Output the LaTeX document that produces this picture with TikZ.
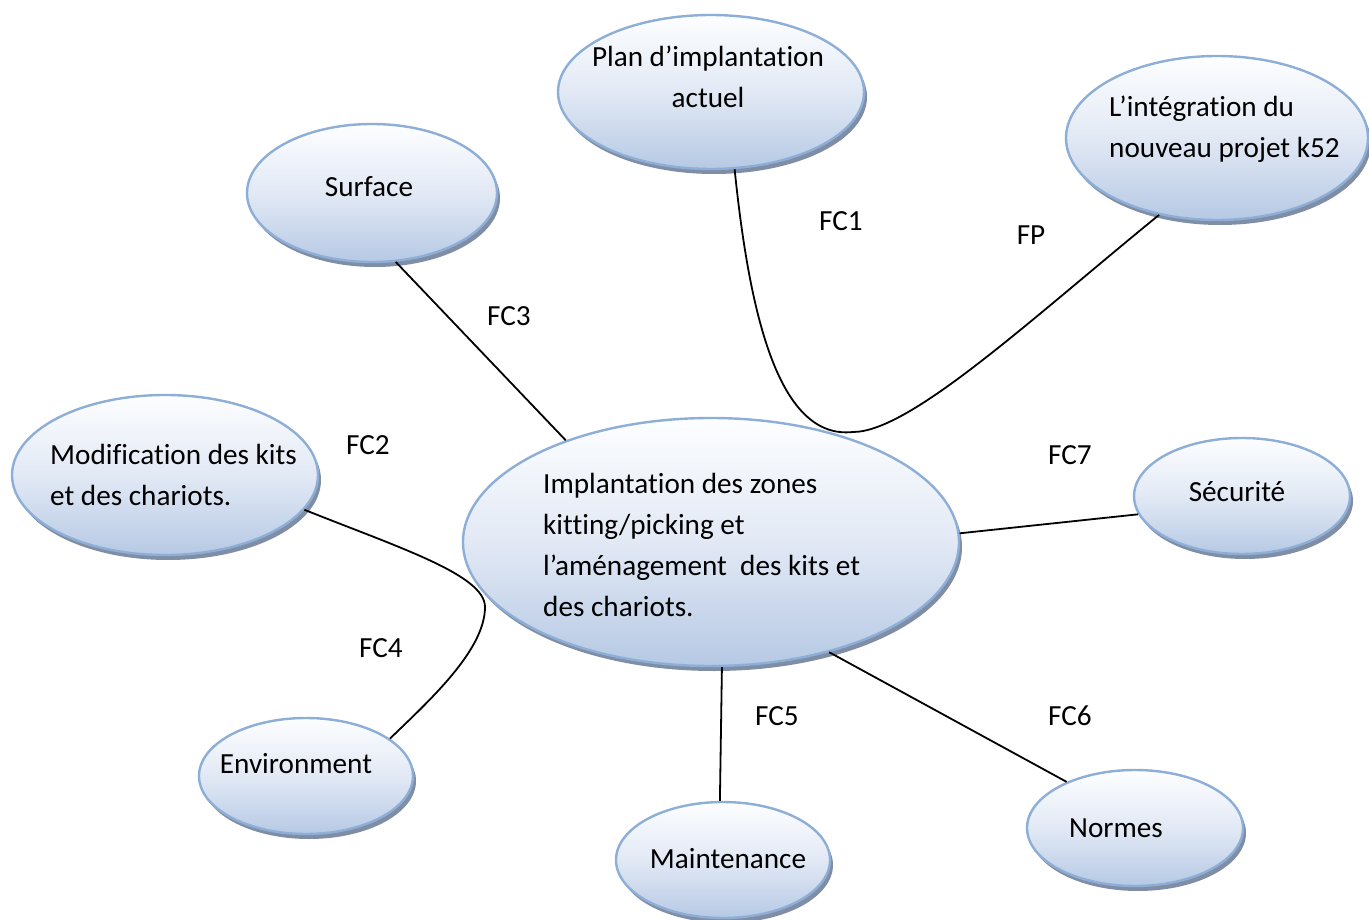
\documentclass[tikz,border=0pt]{standalone}
\usepackage{fontspec}
\setmainfont{Carlito}[Ligatures={NoCommon,NoContextual},RawFeature={-liga;-clig;-dlig}]
\usetikzlibrary{shapes.geometric,shadows}
\definecolor{ellborder}{RGB}{141,174,214}
\definecolor{elltop}{RGB}{253,254,255}
\definecolor{ellmid}{RGB}{226,233,245}
\definecolor{ellbot}{RGB}{182,201,228}
\definecolor{ellshadow}{RGB}{128,142,165}
\tikzset{
  bubble/.style={ellipse, draw=ellborder, line width=2.4pt,
    top color=elltop, bottom color=ellbot, middle color=ellmid,
    inner sep=0pt,
    drop shadow={shadow xshift=3pt, shadow yshift=-5pt, fill=ellshadow, opacity=1}},
  txt/.style={inner sep=0pt, font=\fontsize{29.2}{41}\selectfont},
  link/.style={line width=1.8pt, black},
  fclabel/.style={txt, anchor=base}
}
\begin{document}
\begin{tikzpicture}[x=1pt, y=-1pt]
\path[use as bounding box] (0,0) rectangle (1369,920);

% bubbles
\node[bubble, minimum width=306pt, minimum height=154pt] (plan)  at (711,92)  {};
\node[bubble, minimum width=302pt, minimum height=164pt] (integ) at (1217,138) {};
\node[bubble, minimum width=250pt, minimum height=138pt] (surf)  at (372,193) {};
\node[bubble, minimum width=306pt, minimum height=160pt] (modif) at (165,475) {};
\node[bubble, minimum width=496pt, minimum height=248pt] (cent)  at (711,542) {};
\node[bubble, minimum width=216pt, minimum height=116pt] (secu)  at (1242,496) {};
\node[bubble, minimum width=214pt, minimum height=116pt] (env)   at (306,776) {};
\node[bubble, minimum width=214pt, minimum height=116pt] (maint) at (723,860) {};
\node[bubble, minimum width=216pt, minimum height=116pt] (norm)  at (1135,828) {};

% bubble texts
\node[txt, anchor=base] (plantxt) at (708,67)
  {\vtop{\halign{\hfil#\hfil\cr Plan d’implantation\cr actuel\cr}}};
\node[txt, anchor=base west] (integtxt) at (1109,117)
  {\vtop{\hbox{L’intégration du}\hbox{nouveau projet k52}}};
\node[txt, anchor=base] (surftxt) at (369,197) {Surface};
\node[txt, anchor=base west] (modiftxt) at (50,464)
  {\vtop{\hbox{Modification des kits}\hbox{et des chariots.}}};
\node[txt, anchor=base west] (centtxt) at (543,493)
  {\vtop{\hbox{Implantation des zones}\hbox{kitting/picking et}%
         \hbox{l’aménagement\ \ des kits et}\hbox{des chariots.}}};
\node[txt, anchor=base] (secutxt)  at (1237,501) {Sécurité};
\node[txt, anchor=base] (envtxt)   at (296,773)  {Environment};
\node[txt, anchor=base] (mainttxt) at (728,868)  {Maintenance};
\node[txt, anchor=base] (normtxt)  at (1116,837) {Normes};

% connectors
\draw[link] (surf.-71.6) -- (cent.145.2);
\draw[link] (plan.-73.6) .. controls (750,320) and (780,440) .. (853,432)
                         .. controls (910,432) and (1030,320) .. (integ.-127.7);
\draw[link] (modif.-14.8) .. controls (400,548) and (485,575) .. (485,607)
                          .. controls (485,650) and (430,700) .. (env.24.6);
\draw[link] (cent.2.3) -- (secu.190);
\draw[link] (cent.-85.9) -- (maint.93);
\draw[link] (cent.-43.5) -- (norm.146.1);

% function labels
\node[fclabel] (fc1) at (841,231)  {FC1};
\node[fclabel] (fp)  at (1031,245) {FP};
\node[fclabel] (fc3) at (509,325)  {FC3};
\node[fclabel] (fc2) at (368,454)  {FC2};
\node[fclabel] (fc7) at (1070,464) {FC7};
\node[fclabel] (fc4) at (381,657)  {FC4};
\node[fclabel] (fc5) at (777,725)  {FC5};
\node[fclabel] (fc6) at (1070,725) {FC6};
\end{tikzpicture}
\end{document}
